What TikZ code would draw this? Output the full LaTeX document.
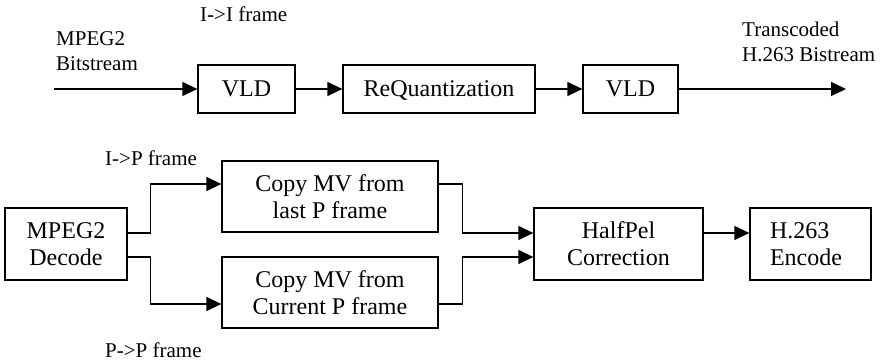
\documentclass[tikz,border=0pt]{standalone}
\usepackage{fontspec}
\setmainfont{Liberation Serif}
\usetikzlibrary{arrows.meta}
\tikzset{
  blk/.style={draw, line width=1.3pt, inner sep=0pt, align=center, font=\fontsize{24}{27}\selectfont},
  topblk/.style={blk, minimum height=48pt, text height=16pt, text depth=0pt},
  lbl/.style={inner sep=0pt, align=left, font=\fontsize{21}{25}\selectfont},
  conn/.style={line width=1.3pt, -{Triangle[length=15pt,width=14pt]}},
}
\begin{document}
\begin{tikzpicture}[x=1pt,y=-1pt]
\useasboundingbox (0,0) rectangle (882,363);
% top row
\node[topblk, minimum width=97pt] (vld1) at (246.5,89) {VLD};
\node[topblk, minimum width=192pt] (rq) at (439,89) {ReQuantization};
\node[topblk, minimum width=95pt] (vld2) at (630.5,89) {VLD};
\coordinate (in) at (54,89);
\coordinate (out) at (846,89);
\draw[conn] (in) -- (vld1.west);
\draw[conn] (vld1.east) -- (rq.west);
\draw[conn] (rq.east) -- (vld2.west);
\draw[conn] (vld2.east) -- (out);
\node[lbl, anchor=base west] (lin) at (56,71) {MPEG2\\Bitstream};
\node[lbl, anchor=base west] (lii) at (200,22) {I->I frame};
\node[lbl, anchor=base west] (lout) at (742,62) {Transcoded\\H.263 Bistream};
% bottom
\node[blk, minimum width=122pt, minimum height=72pt] (dec) at (66,244) {MPEG2\\Decode};
\node[blk, minimum width=216pt, minimum height=71pt] (c1) at (330,196.5) {Copy MV from\\last P frame};
\node[blk, minimum width=216pt, minimum height=71pt] (c2) at (330,292.5) {Copy MV from\\Current P frame};
\node[blk, minimum width=169pt, minimum height=72pt] (hp) at (618.5,244) {HalfPel\\Correction};
\node[blk, minimum height=72pt, inner xsep=20pt, text width=81pt, align=left] (enc) at (810.5,244) {H.263\\Encode};
\draw[conn] ([yshift=11pt]dec.east) -- ++(23,0) |- ([yshift=12.5pt]c1.west);
\draw[conn] ([yshift=-13pt]dec.east) -- ++(23,0) |- ([yshift=-11.5pt]c2.west);
\draw[conn] ([yshift=12.5pt]c1.east) -- ++(24,0) |- ([yshift=11pt]hp.west);
\draw[conn] ([yshift=-11.5pt]c2.east) -- ++(24,0) |- ([yshift=-13pt]hp.west);
\draw[conn] ([yshift=11pt]hp.east) -- ([yshift=11pt]enc.west);
\node[lbl, anchor=base west] (lip) at (105,166) {I->P frame};
\node[lbl, anchor=base west] (lpp) at (105,357) {P->P frame};
\end{tikzpicture}
\end{document}
